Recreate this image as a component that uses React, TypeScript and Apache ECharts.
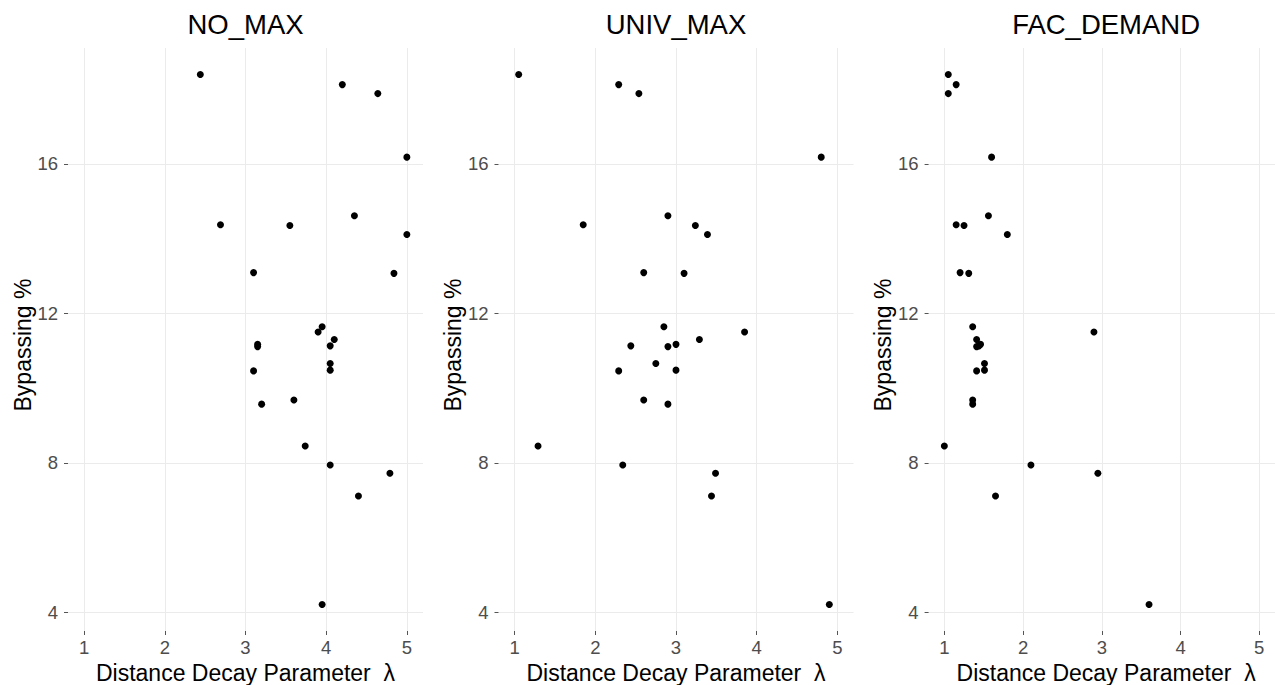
import React, { useEffect, useRef } from "react";
import * as echarts from "echarts";

const panelTitles = ["NO_MAX", "UNIV_MAX", "FAC_DEMAND"];
const xTicks = [1, 2, 3, 4, 5];
const yTicks = [4, 8, 12, 16];

const bypassing = [
  18.39, 18.12, 17.88, 16.18, 14.37, 14.35, 14.61, 14.11, 13.09, 13.07, 11.64, 11.5, 11.3,
  11.13, 11.17, 11.11, 10.66, 10.48, 10.46, 9.57, 9.68, 8.45, 7.94, 7.72, 7.11, 4.21,
];
const lambdaNoMax = [
  2.44, 4.2, 4.64, 5.0, 2.69, 3.55, 4.35, 5.0, 3.1, 4.84, 3.95, 3.9, 4.1, 4.05, 3.15, 3.15,
  4.05, 4.05, 3.1, 3.2, 3.6, 3.74, 4.05, 4.79, 4.4, 3.95,
];
const lambdaUnivMax = [
  1.05, 2.29, 2.54, 4.8, 1.85, 3.24, 2.9, 3.39, 2.6, 3.1, 2.85, 3.85, 3.29, 2.44, 3.0, 2.9,
  2.75, 3.0, 2.29, 2.9, 2.6, 1.29, 2.34, 3.49, 3.44, 4.9,
];
const lambdaFacDemand = [
  1.05, 1.15, 1.05, 1.6, 1.15, 1.25, 1.56, 1.8, 1.2, 1.31, 1.36, 2.9, 1.41, 1.44, 1.46, 1.41,
  1.51, 1.51, 1.41, 1.36, 1.36, 1.0, 2.1, 2.95, 1.65, 3.6,
];

const xTitle = "Distance Decay Parameter \u00a0\u03bb";
const yTitle = "Bypassing %";

export default function App() {
  const ref = useRef<HTMLDivElement>(null);

  useEffect(() => {
    document.body.style.margin = "0";
    if (!ref.current) return;
    const chart = echarts.init(ref.current, undefined, { renderer: "svg" });
    const font = "Liberation Sans, Arial, sans-serif";
    const lambdas = [lambdaNoMax, lambdaUnivMax, lambdaFacDemand];
    const lefts = [68, 498.5, 928.6];
    const width = 355;
    const top = 48;
    const height = 583;

    const grids = lefts.map((l) => ({ left: l, top, width, height, containLabel: false }));
    const xAxes = lefts.map((_, i) => ({
      type: "value",
      gridIndex: i,
      min: 0.8,
      max: 5.2,
      axisLine: { show: false },
      axisTick: {
        show: true,
        length: 4,
        customValues: xTicks,
        lineStyle: { color: "#555555", width: 1 },
      },
      axisLabel: {
        customValues: xTicks,
        margin: 7,
        color: "#4D4D4D",
        fontSize: 18.5,
        fontFamily: font,
      },
      splitLine: { show: true, lineStyle: { color: "#EBEBEB", width: 1 } },
    }));
    const yAxes = lefts.map((_, i) => ({
      type: "value",
      gridIndex: i,
      min: 3.5,
      max: 19.1,
      axisLine: { show: false },
      axisTick: {
        show: true,
        length: 4,
        customValues: yTicks,
        lineStyle: { color: "#555555", width: 1 },
      },
      axisLabel: {
        customValues: yTicks,
        margin: 10,
        color: "#4D4D4D",
        fontSize: 18.5,
        fontFamily: font,
      },
      splitLine: { show: true, lineStyle: { color: "#EBEBEB", width: 1 } },
    }));
    const series = lambdas.map((xs, i) => ({
      type: "scatter",
      xAxisIndex: i,
      yAxisIndex: i,
      symbolSize: 7,
      itemStyle: { color: "#000000", opacity: 1 },
      data: xs.map((x, j) => [x, bypassing[j]]),
    }));

    const graphics: any[] = [];
    lefts.forEach((l, i) => {
      const cx = l + width / 2;
      graphics.push({
        type: "text",
        x: cx,
        y: 24,
        style: {
          text: panelTitles[i],
          font: `27.5px ${font}`,
          fill: "#000000",
          textAlign: "center",
          textVerticalAlign: "middle",
        },
      });
      graphics.push({
        type: "text",
        x: cx,
        y: 673,
        style: {
          text: xTitle,
          font: `23px ${font}`,
          fill: "#000000",
          textAlign: "center",
          textVerticalAlign: "middle",
        },
      });
      graphics.push({
        type: "text",
        x: l - 45.5,
        y: 345,
        rotation: Math.PI / 2,
        style: {
          text: yTitle,
          font: `23px ${font}`,
          fill: "#000000",
          textAlign: "center",
          textVerticalAlign: "middle",
        },
      });
    });

    chart.setOption({
      animation: false,
      backgroundColor: "#ffffff",
      grid: grids,
      xAxis: xAxes,
      yAxis: yAxes,
      series,
      graphic: graphics,
    });
    return () => chart.dispose();
  }, []);

  return <div ref={ref} style={{ width: 1275, height: 685 }} />;
}
